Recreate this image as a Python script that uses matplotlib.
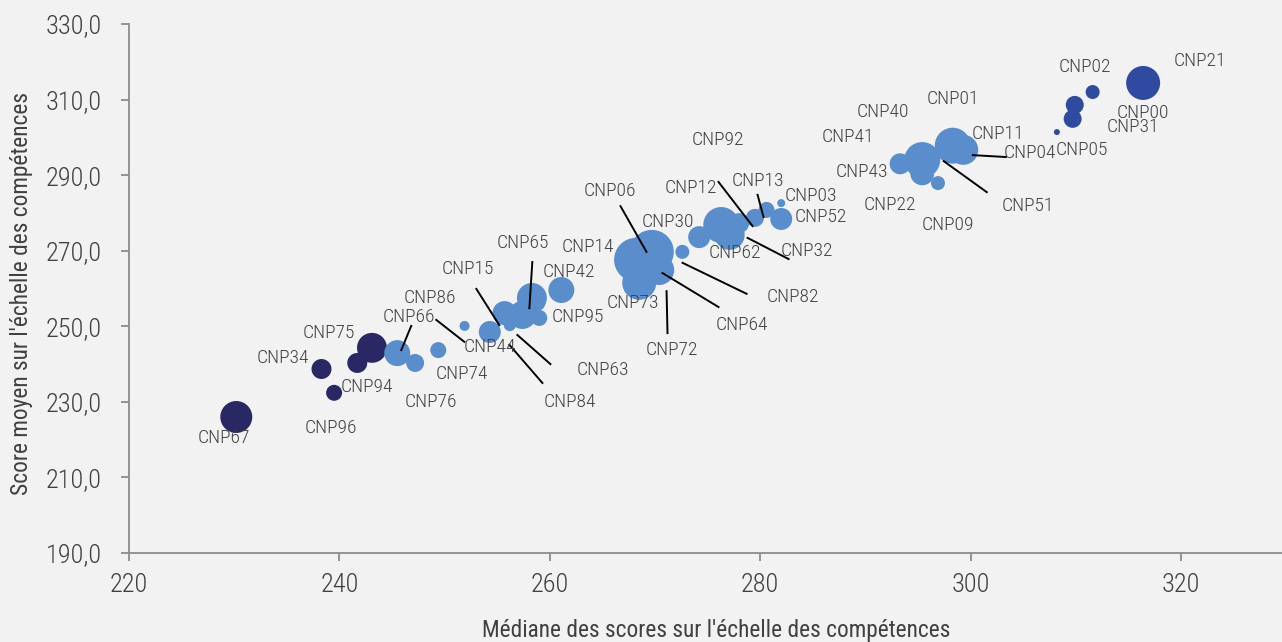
import matplotlib
matplotlib.use("Agg")
import matplotlib.pyplot as plt
from matplotlib.ticker import FuncFormatter

# codes des CNP, médiane (x), score moyen (y), poids (taille des bulles), groupe
noms = ["CNP67", "CNP34", "CNP96", "CNP94", "CNP75",
        "CNP66", "CNP76", "CNP74", "CNP86", "CNP44", "CNP15", "CNP84", "CNP63",
        "CNP65", "CNP14", "CNP95", "CNP42",
        "CNP06", "CNP30", "CNP73", "CNP64", "CNP82", "CNP72", "CNP92", "CNP62",
        "CNP32", "CNP12", "CNP13", "CNP03", "CNP52",
        "CNP43", "CNP41", "CNP40", "CNP22", "CNP51", "CNP09", "CNP01", "CNP11", "CNP04",
        "CNP21", "CNP02", "CNP31", "CNP05", "CNP00"]
mediane = [230.2, 238.3, 239.5, 241.7, 243.1,
           245.5, 247.2, 249.4, 251.9, 254.3, 255.7, 256.2, 257.4,
           258.3, 258.8, 259.0, 261.1,
           268.2, 269.7, 268.5, 270.4, 272.6, 274.2, 276.3, 277.1,
           278.0, 279.5, 280.6, 282.0, 282.0,
           293.3, 294.4, 295.0, 295.4, 295.4, 296.9, 298.3, 299.3, 299.7,
           316.4, 311.6, 309.9, 309.7, 308.2]
moyenne = [226.0, 238.7, 232.4, 240.3, 244.3,
           242.9, 240.3, 243.7, 250.1, 248.5, 253.5, 250.3, 253.0,
           257.5, 256.2, 252.2, 259.6,
           267.6, 269.7, 261.5, 264.9, 269.7, 273.6, 276.8, 274.2,
           277.3, 278.7, 280.8, 282.6, 278.4,
           293.0, 293.2, 294.9, 294.0, 290.5, 287.9, 297.8, 296.7, 295.9,
           314.4, 312.0, 308.6, 304.9, 301.4]
poids = [256, 100, 64, 100, 225,
         169, 81, 64, 25, 121, 144, 36, 196,
         225, 64, 64, 169,
         484, 484, 289, 225, 49, 121, 324, 225,
         100, 81, 64, 16, 121,
         110, 64, 64, 324, 144, 49, 324, 225, 64,
         289, 49, 81, 81, 9]
groupe = [0] * 5 + [1] * 34 + [2] * 5

couleurs = {0: "#2a2864", 1: "#5a8dcb", 2: "#2f4a9e"}

# position des étiquettes (coordonnées des données)
etiquettes = {
    "CNP67": (229.0, 220.4), "CNP34": (234.6, 241.6), "CNP96": (239.2, 223.1),
    "CNP94": (242.6, 233.9), "CNP75": (239.0, 248.2), "CNP66": (246.6, 252.5),
    "CNP86": (248.6, 257.5), "CNP76": (248.7, 230.0), "CNP74": (251.6, 237.4),
    "CNP15": (252.2, 265.2), "CNP44": (254.3, 244.5), "CNP84": (261.9, 230.0),
    "CNP63": (265.0, 238.4), "CNP65": (257.4, 272.0), "CNP14": (263.6, 271.0),
    "CNP42": (261.8, 264.4), "CNP95": (262.7, 252.5), "CNP06": (265.7, 285.8),
    "CNP30": (271.2, 277.6), "CNP73": (267.9, 256.2), "CNP72": (271.6, 243.7),
    "CNP64": (278.3, 250.3), "CNP82": (283.1, 257.8), "CNP12": (273.4, 286.6),
    "CNP13": (279.8, 288.5), "CNP92": (276.0, 299.3), "CNP03": (284.8, 284.5),
    "CNP52": (285.8, 278.9), "CNP62": (277.6, 269.4), "CNP32": (284.4, 269.9),
    "CNP40": (291.7, 306.7), "CNP41": (288.3, 300.1), "CNP01": (298.3, 310.2),
    "CNP11": (302.6, 300.9), "CNP04": (305.6, 295.9), "CNP43": (289.7, 290.8),
    "CNP22": (292.3, 282.1), "CNP09": (297.8, 276.8), "CNP51": (305.4, 281.8),
    "CNP02": (310.9, 318.6), "CNP21": (321.8, 320.2), "CNP00": (316.4, 306.4),
    "CNP31": (315.4, 302.7), "CNP05": (310.6, 296.7),
}

# traits de rappel (x0, y0, x1, y1)
traits = [
    (246.83, 250.1, 245.88, 243.7),
    (249.21, 251.7, 251.87, 245.9),
    (253.02, 259.9, 255.20, 250.3),
    (256.16, 245.1, 259.30, 235.0),
    (256.92, 247.7, 260.06, 240.0),
    (258.34, 267.0, 258.06, 254.8),
    (266.72, 281.8, 269.19, 269.7),
    (271.10, 259.3, 271.19, 248.2),
    (270.71, 264.1, 276.04, 255.1),
    (272.62, 266.8, 278.71, 258.6),
    (276.04, 288.2, 279.28, 276.5),
    (279.75, 284.8, 280.32, 278.9),
    (278.80, 273.4, 282.70, 267.8),
    (300.21, 295.3, 303.35, 294.8),
    (297.45, 293.7, 301.54, 285.5),
]

plt.rcParams["font.family"] = ["Roboto Condensed", "Barlow Condensed", "DejaVu Sans"]
plt.rcParams["font.weight"] = "light"
gris = "#404040"
fond = "#f2f2f2"

fig = plt.figure(figsize=(12.82, 6.42), dpi=100, facecolor=fond)
ax = fig.add_axes([0.1006, 0.1386, 0.8994, 0.824])
ax.set_facecolor(fond)

for g in [0, 1, 2]:
    xs = [mediane[i] for i in range(len(noms)) if groupe[i] == g]
    ys = [moyenne[i] for i in range(len(noms)) if groupe[i] == g]
    ss = [poids[i] * 2.07 for i in range(len(noms)) if groupe[i] == g]
    ax.scatter(xs, ys, s=ss, c=couleurs[g], linewidths=0, zorder=2 + g)

for x0, y0, x1, y1 in traits:
    ax.plot([x0, x1], [y0, y1], color="black", lw=1.4, zorder=6)

for nom in noms:
    tx, ty = etiquettes[nom]
    ax.text(tx, ty, nom, ha="center", va="center", fontsize=14,
            color=gris, zorder=7)

ax.set_xlim(220, 329.6)
ax.set_ylim(190, 330)
ax.set_xticks([220, 240, 260, 280, 300, 320])
ax.set_yticks([190, 210, 230, 250, 270, 290, 310, 330])
ax.yaxis.set_major_formatter(FuncFormatter(lambda v, p: f"{v:.1f}".replace(".", ",")))

for s in ["top", "right"]:
    ax.spines[s].set_visible(False)
for s in ["left", "bottom"]:
    ax.spines[s].set_color("#8c8c8c")
    ax.spines[s].set_linewidth(1.3)
ax.tick_params(axis="both", colors="#8c8c8c", width=1.3, length=5.5,
               labelcolor=gris, labelsize=19)
ax.tick_params(axis="y", pad=14)
ax.tick_params(axis="x", pad=9)

ax.set_xlabel("Médiane des scores sur l'échelle des compétences",
              fontsize=16.8, color=gris)
ax.set_ylabel("Score moyen sur l'échelle des compétences",
              fontsize=16.8, color=gris)
ax.xaxis.set_label_coords(0.509, -0.124)
ax.yaxis.set_label_coords(-0.083, 0.49)

fig.savefig("out.png", dpi=100, facecolor=fond)
